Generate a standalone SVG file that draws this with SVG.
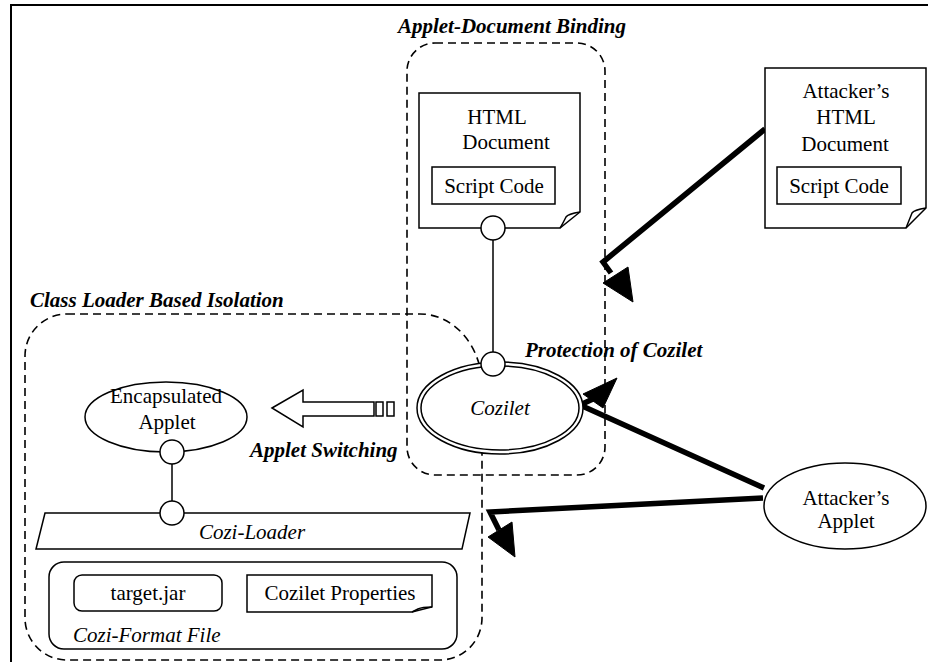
<svg xmlns="http://www.w3.org/2000/svg" width="928" height="662" viewBox="0 0 928 662" font-family="Liberation Serif, DejaVu Serif, serif">
<style>
text{font-family:'Liberation Serif','DejaVu Serif',serif;font-size:21px;fill:#000}
.t{font-weight:bold;font-style:italic}
.i{font-style:italic}
.m{text-anchor:middle}
.dash{fill:none;stroke:#000;stroke-width:1.6;stroke-dasharray:8 5}
.s{fill:#fff;stroke:#000;stroke-width:1.5}
.n{fill:none;stroke:#000;stroke-width:1.5}
.thick{fill:none;stroke:#000;stroke-width:5.5;stroke-linejoin:miter}
.head{fill:#000;stroke:#000;stroke-width:1}
</style>
<rect width="928" height="662" fill="#fff"/>
<path d="M11,662 V5 H928" fill="none" stroke="#000" stroke-width="2"/>

<g id="regions">
<path class="dash" d="M67,314 H420 A62,72 0 0 1 482,386 V618 A42,42 0 0 1 440,660 H67 A42,42 0 0 1 25,618 V356 A42,42 0 0 1 67,314 Z"/>
<rect class="dash" x="407" y="43" width="198" height="432" rx="28"/>
<text class="t" x="512" y="33" text-anchor="middle">Applet-Document Binding</text>
<text class="t" x="30" y="307">Class Loader Based Isolation</text>
<text class="t" x="525" y="357">Protection of Cozilet</text>
<text class="t" x="250" y="457">Applet Switching</text>
</g>

<g id="connectors">
<line class="n" x1="493" y1="240" x2="493" y2="352"/>
<line class="n" x1="172" y1="464" x2="172" y2="501"/>
<polyline class="thick" points="765,129 603,262 611,273"/>
<polygon class="head" points="603,283 633,302 628,267"/>
<polyline class="thick" points="764,488 580,405 593,399"/>
<polygon class="head" points="583,394 617,378 603,408"/>
<polyline class="thick" points="763,498 490,512 499,530"/>
<polygon class="head" points="488,537 515,557 512,522"/>
<path id="switch-arrow" class="s" d="M272,408 L303,390 V402 H374 V416 H303 V427 Z"/>
<rect class="s" x="376" y="402" width="7" height="14"/>
<rect class="s" x="387" y="402" width="7" height="14"/>
</g>

<g id="html-document">
<path class="s" d="M419,93 H580 V212 L560,228 H419 Z"/>
<path class="n" d="M580,212 C574,213 568,214 566,217 C564,221 562,225 560,228"/>
<text class="m" x="497" y="124">HTML</text>
<text class="m" x="506" y="149">Document</text>
<rect class="s" x="432" y="167" width="123" height="37"/>
<text class="m" x="494" y="193">Script Code</text>
<circle class="s" cx="493" cy="228" r="12"/>
</g>

<g id="attacker-html">
<path class="s" d="M765,68 H926 V208 L906,228 H765 Z"/>
<path class="n" d="M926,208 C920,209 914,210 912,213 C910,218 908,223 906,228"/>
<text class="m" x="846" y="98">Attacker’s</text>
<text class="m" x="846" y="124">HTML</text>
<text class="m" x="845" y="151">Document</text>
<rect class="s" x="777" y="167" width="124" height="37"/>
<text class="m" x="839" y="193">Script Code</text>
</g>

<g id="cozilet">
<ellipse class="s" cx="500" cy="408" rx="83" ry="46"/>
<ellipse class="s" cx="500" cy="408" rx="79" ry="42"/>
<text class="i m" x="500" y="415">Cozilet</text>
<circle class="s" cx="493" cy="364" r="12"/>
</g>

<g id="encapsulated-applet">
<ellipse class="s" cx="166" cy="417" rx="81" ry="35"/>
<text class="m" x="166" y="403">Encapsulated</text>
<text class="m" x="167" y="429">Applet</text>
<circle class="s" cx="172" cy="452" r="12"/>
</g>

<g id="cozi-loader">
<path class="s" d="M45,513 H470 L462,549 H36 Z"/>
<text class="i m" x="252" y="539">Cozi-Loader</text>
<circle class="s" cx="172" cy="513" r="12"/>
</g>

<g id="cozi-format-file">
<rect class="s" x="49" y="562" width="408" height="87" rx="15"/>
<text class="i" x="73" y="642">Cozi-Format File</text>
<rect class="s" x="74" y="575" width="148" height="36" rx="8"/>
<text class="m" x="148" y="600">target.jar</text>
<path class="s" d="M247,575 H432 V607 L412,612 H247 Z"/>
<path class="n" d="M432,607 C425,607 420,608 418,609 C416,610 414,611 412,612"/>
<text class="m" x="340" y="600">Cozilet Properties</text>
</g>

<g id="attacker-applet">
<ellipse class="s" cx="845" cy="506" rx="81" ry="43"/>
<text class="m" x="846" y="505">Attacker’s</text>
<text class="m" x="846" y="528">Applet</text>
</g>
</svg>
